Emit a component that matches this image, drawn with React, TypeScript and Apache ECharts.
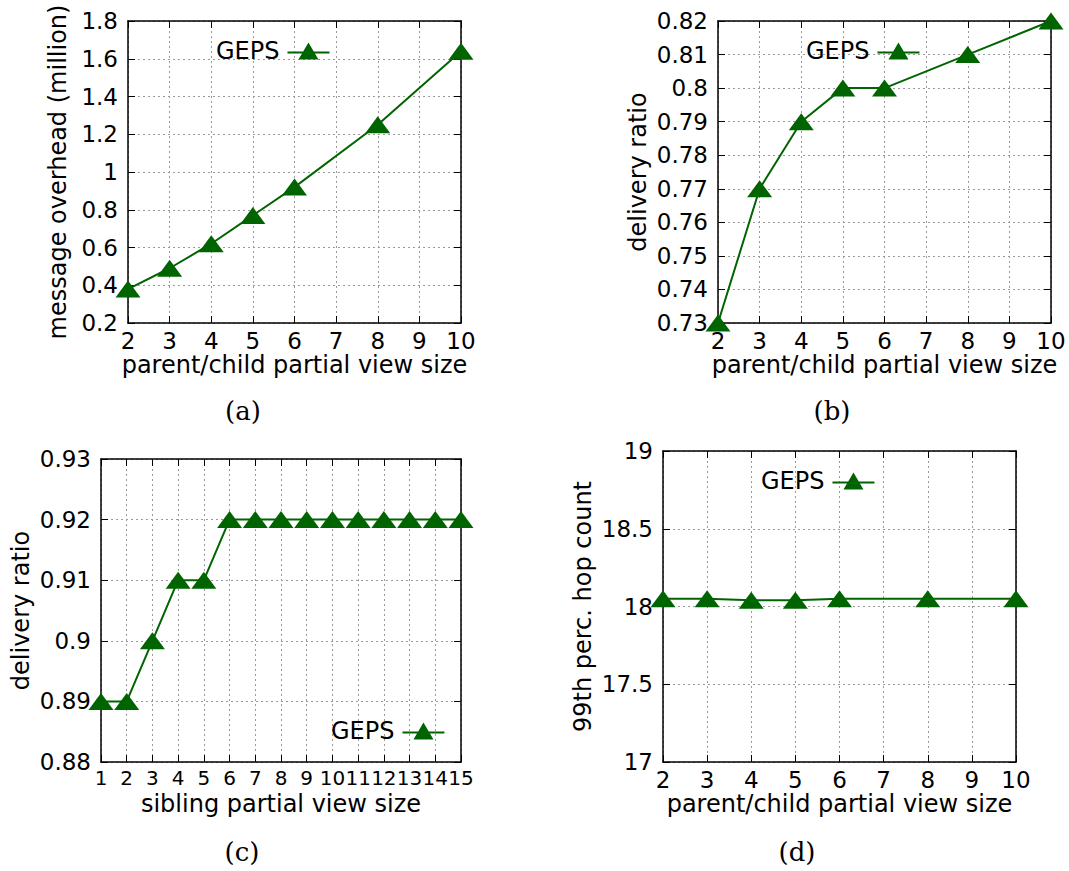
import { useEffect, useRef } from "react";
import * as echarts from "echarts";

// ---- data -------------------------------------------------------------
const pcSizes = [2, 3, 4, 5, 6, 8, 10];
const overheadMillion = [0.38, 0.49, 0.62, 0.77, 0.92, 1.25, 1.64];
const deliveryByPc = [0.73, 0.77, 0.79, 0.8, 0.8, 0.81, 0.82];
const siblingSizes = [1, 2, 3, 4, 5, 6, 7, 8, 9, 10, 11, 12, 13, 14, 15];
const deliveryBySibling = [0.89, 0.89, 0.9, 0.91, 0.91, 0.92, 0.92, 0.92, 0.92, 0.92, 0.92, 0.92, 0.92, 0.92, 0.92];
const hopCount99 = [18.05, 18.05, 18.04, 18.04, 18.05, 18.05, 18.05];

const seriesName = "GEPS";
const captions = ["(a)", "(b)", "(c)", "(d)"];
const xTitles = [
  "parent/child partial view size",
  "parent/child partial view size",
  "sibling partial view size",
  "parent/child partial view size",
];
const yTitles = ["message overhead (million)", "delivery ratio", "delivery ratio", "99th perc. hop count"];

// axis ranges: [min, max, step]
const xRanges = [
  [2, 10, 1],
  [2, 10, 1],
  [1, 15, 1],
  [2, 10, 1],
];
const yRanges = [
  [0.2, 1.8, 0.2],
  [0.73, 0.82, 0.01],
  [0.88, 0.93, 0.01],
  [17, 19, 0.5],
];

// ---- layout -----------------------------------------------------------
const panels = [
  { xs: pcSizes, ys: overheadMillion, grid: { left: 128, top: 21, width: 333, height: 302 }, yGap: 58, xLabelSize: 23, legend: { left: 211, top: 34 }, caption: [243, 411] },
  { xs: pcSizes, ys: deliveryByPc, grid: { left: 718, top: 21, width: 333, height: 302 }, yGap: 68, xLabelSize: 23, legend: { left: 801, top: 34 }, caption: [832, 411] },
  { xs: siblingSizes, ys: deliveryBySibling, grid: { left: 101, top: 459, width: 360, height: 303 }, yGap: 68, xLabelSize: 20, legend: { left: 326, top: 714 }, caption: [242, 852] },
  { xs: pcSizes, ys: hopCount99, grid: { left: 663, top: 451, width: 353, height: 311 }, yGap: 68, xLabelSize: 23, legend: { left: 756, top: 464 }, caption: [797, 852] },
];

const GREEN = "#006400";
const FONT = "DejaVu Sans";
const FS = 23;
// key sample: short line with a triangle sitting on it
const KEY_ICON = "path://M0,10H42V12H0Z M11,18L21,1L31,18Z";

export default function App() {
  const ref = useRef<HTMLDivElement>(null);

  useEffect(() => {
    if (!ref.current) return;
    const chart = echarts.init(ref.current, undefined, { renderer: "svg" });

    const frameLine = { show: true, onZero: false, lineStyle: { color: "#000", width: 1.5 } };
    const innerTick = { show: true, inside: true, length: 7, lineStyle: { color: "#000", width: 1 } };
    const dotted = { show: true, lineStyle: { color: "#9a9a9a", width: 1, type: [2, 3] as any } };

    const xAxis: any[] = [];
    const yAxis: any[] = [];
    const series: any[] = [];
    const legend: any[] = [];
    const graphic: any[] = [];

    panels.forEach((p, i) => {
      const [xMin, xMax, xStep] = xRanges[i];
      const [yMin, yMax, yStep] = yRanges[i];
      xAxis.push({
        type: "value",
        gridIndex: i,
        position: "bottom",
        min: xMin,
        max: xMax,
        interval: xStep,
        axisLine: frameLine,
        axisTick: innerTick,
        splitLine: dotted,
        axisLabel: {
          color: "#000",
          fontSize: p.xLabelSize,
          fontFamily: FONT,
          margin: 6,
          showMinLabel: true,
          showMaxLabel: true,
          hideOverlap: false,
        },
        name: xTitles[i],
        nameLocation: "middle",
        nameGap: 30,
        nameTextStyle: { color: "#000", fontSize: 24, fontFamily: FONT },
      });
      xAxis.push({
        type: "value",
        gridIndex: i,
        position: "top",
        min: xMin,
        max: xMax,
        interval: xStep,
        axisLine: frameLine,
        axisTick: innerTick,
        splitLine: { show: false },
        axisLabel: { show: false },
      });
      yAxis.push({
        type: "value",
        gridIndex: i,
        position: "left",
        min: yMin,
        max: yMax,
        interval: yStep,
        axisLine: frameLine,
        axisTick: innerTick,
        splitLine: dotted,
        axisLabel: { color: "#000", fontSize: FS, fontFamily: FONT, margin: 10, showMinLabel: true, showMaxLabel: true },
        name: yTitles[i],
        nameLocation: "middle",
        nameGap: p.yGap,
        nameTextStyle: { color: "#000", fontSize: 24, fontFamily: FONT },
      });
      yAxis.push({
        type: "value",
        gridIndex: i,
        position: "right",
        min: yMin,
        max: yMax,
        interval: yStep,
        axisLine: frameLine,
        axisTick: innerTick,
        splitLine: { show: false },
        axisLabel: { show: false },
      });
      series.push({
        type: "line",
        name: seriesName,
        xAxisIndex: 2 * i,
        yAxisIndex: 2 * i,
        data: p.xs.map((x, k) => [x, p.ys[k]]),
        symbol: "triangle",
        symbolSize: [25, 17],
        clip: false,
        lineStyle: { color: GREEN, width: 2 },
        itemStyle: { color: GREEN },
        z: 3,
      });
      legend.push({
        data: [seriesName],
        left: p.legend.left,
        top: p.legend.top,
        align: "right",
        icon: KEY_ICON,
        itemWidth: 42,
        itemHeight: 18,
        itemGap: 0,
        selectedMode: false,
        textStyle: { color: "#000", fontSize: 24, fontFamily: FONT, padding: [0, 3, 0, 0] },
      });
      graphic.push({
        type: "text",
        x: p.caption[0],
        y: p.caption[1],
        style: {
          text: captions[i],
          font: '26px "DejaVu Serif"',
          fill: "#000",
          align: "center",
          verticalAlign: "middle",
        },
      });
    });

    chart.setOption({
      animation: false,
      backgroundColor: "#fff",
      textStyle: { fontFamily: FONT },
      grid: panels.map((p) => ({ ...p.grid, containLabel: false })),
      xAxis,
      yAxis,
      series,
      legend,
      graphic,
    });

    return () => chart.dispose();
  }, []);

  return (
    <div
      ref={ref}
      style={{ position: "absolute", left: 0, top: 0, width: 1069, height: 871, background: "#fff" }}
    />
  );
}
